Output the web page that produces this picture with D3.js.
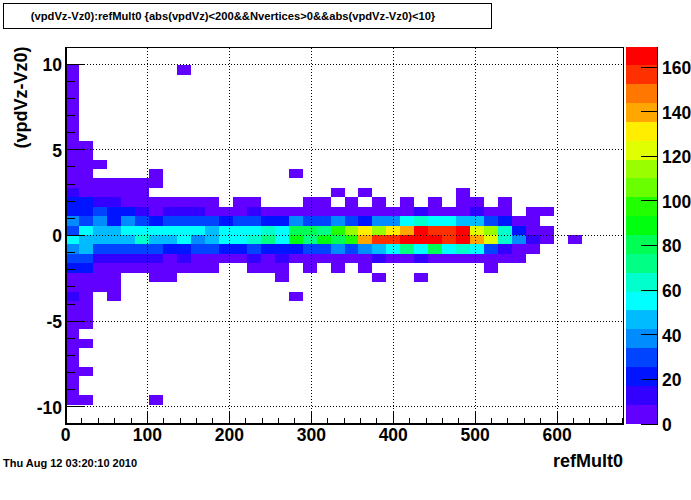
<!DOCTYPE html>
<html><head><meta charset="utf-8">
<script src="https://cdn.jsdelivr.net/npm/d3@7"></script>
<style>
html,body{margin:0;padding:0;background:#fff}
svg{display:block}
text{font-family:"Liberation Sans",Arial,sans-serif;font-weight:bold;fill:#000}
</style></head><body>
<svg id="c" width="691" height="500"></svg>
<script>
const titleText = "(vpdVz-Vz0):refMult0 {abs(vpdVz)<200&&Nvertices>0&&abs(vpdVz-Vz0)<10}";
const dateText = "Thu Aug 12 03:20:10 2010";
const xLabel = "refMult0";
const yLabel = "(vpdVz-Vz0)";
const xTicks = [0,100,200,300,400,500,600];
const yTicks = [-10,-5,0,5,10];
const zTicks = [0,20,40,60,80,100,120,140,160];
const xBinCount = 40, yBinCount = 40;
const xExtent = [0,681], yExtent = [-11,11], zExtent = [0,169];
const palette = ["#6200ff","#3300ff","#0014ff","#0044ff","#008bff","#00bbff","#00ffff","#00ffcc","#00ff85","#00ff55",
                 "#00ff0e","#22ff00","#69ff00","#99ff00","#e0ff00","#ffee00","#ffa700","#ff7700","#ff3000","#ff0000"];
// counts per refMult0 bin, one row per (vpdVz-Vz0) bin from top to bottom
const counts = [
[],
[],
[4,0,0,0,0,0,0,0,4],
[4],[4],[4],[4],[4],[4],[4],
[4,4],
[4,4],
[4,4,4],
[4,4,0,0,0,0,4,0,0,0,0,0,0,0,0,0,4],
[4,4,4,4,4,4,4],
[13,4,4,4,4,4,0,0,0,0,0,0,0,0,0,0,0,0,0,4,0,4,0,0,0,0,0,0,4],
[21,21,13,13,4,4,4,4,4,4,4,0,4,4,0,0,0,4,4,0,4,0,4,0,4,0,4,0,4,4,0,4],
[21,21,30,21,21,13,4,13,13,13,4,4,4,13,4,4,4,4,4,4,4,4,4,4,4,13,4,4,4,13,4,4,0,4,4],
[38,30,38,21,38,30,21,30,30,30,30,21,30,30,21,21,38,30,30,38,30,21,38,38,55,63,55,55,46,46,30,21,4,4],
[30,55,46,46,55,55,55,55,55,55,46,55,55,55,63,55,80,80,72,97,114,131,114,131,139,165,156,156,165,123,114,63,21,4,4],
[55,46,46,46,46,63,46,46,55,38,46,55,55,63,72,55,89,72,89,80,97,139,156,156,165,165,165,156,165,139,123,63,38,13,4,0,4],
[38,46,30,30,30,30,30,21,21,30,30,21,21,30,21,21,21,30,30,38,30,38,46,55,72,55,80,55,63,55,30,13,4,4],
[30,30,13,13,13,13,13,4,13,4,4,4,4,13,4,13,4,4,4,4,4,4,13,4,4,13,4,4,4,4,4,4,4],
[21,21,4,4,4,4,4,4,4,4,4,0,0,4,4,4,0,4,0,4,0,4,0,0,0,0,0,0,0,0,4],
[4,4,4,4,0,0,4,4,0,0,0,0,0,0,0,4,0,0,0,0,0,0,4,0,0,4],
[4,4,4,4],
[13,4,0,4,0,0,0,0,0,0,0,0,0,0,0,0,4],
[4,4],[4,4],[4,4],
[4],
[4,4],
[4],[4],
[4,4],
[4],[4],
[4,4,0,0,0,0,4],
[],
[]
];

const svg = d3.select("#c");
const L=65.5,R=623.5,T=46.5,B=423.5;
const x = d3.scaleLinear().domain(xExtent).range([L,R]);
const y = d3.scaleLinear().domain(yExtent).range([B,T]);
const z = d3.scaleLinear().domain(zExtent).range([B,T]);
const colour = d3.scaleQuantize().domain(zExtent).range(palette);
const xBin = (xExtent[1]-xExtent[0])/xBinCount, yBin = (yExtent[1]-yExtent[0])/yBinCount;
const crisp = s=>s.attr("shape-rendering","crispEdges");

// cells
const cells = counts.flatMap((row,j)=>row.map((v,i)=>({i,j,v}))).filter(d=>d.v>0);
svg.append("g").call(crisp).selectAll("rect").data(cells).join("rect")
  .attr("x",d=>Math.round(x(d.i*xBin)))
  .attr("width",d=>Math.round(x((d.i+1)*xBin))-Math.round(x(d.i*xBin)))
  .attr("y",d=>Math.round(y(yExtent[1]-d.j*yBin)))
  .attr("height",d=>Math.round(y(yExtent[1]-(d.j+1)*yBin))-Math.round(y(yExtent[1]-d.j*yBin)))
  .attr("fill",d=>colour(d.v));

// grid
const grid = svg.append("g").attr("stroke","#000").attr("stroke-dasharray","1 2").call(crisp);
grid.selectAll(".gx").data(xTicks.slice(1)).join("line").attr("class","gx")
  .attr("x1",d=>Math.floor(x(d))+.5).attr("x2",d=>Math.floor(x(d))+.5).attr("y1",424).attr("y2",47);
grid.selectAll(".gy").data(yTicks).join("line").attr("class","gy")
  .attr("y1",d=>Math.round(y(d))+.5).attr("y2",d=>Math.round(y(d))+.5).attr("x1",66).attr("x2",623);

// axes
function styleAxis(g){g.selectAll(".domain").remove();g.selectAll("line").attr("stroke","#000").attr("shape-rendering","crispEdges");}
svg.append("g").attr("transform","translate(0,424)")
  .call(d3.axisTop(x).offset(0).tickValues(d3.range(0,681,20)).tickSize(6).tickFormat("")).call(styleAxis);
svg.append("g").attr("transform","translate(0,424)")
  .call(d3.axisTop(x).offset(0).tickValues(xTicks).tickSize(12).tickFormat("")).call(styleAxis);
svg.append("g").attr("transform","translate(66,0)")
  .call(d3.axisRight(y).tickValues(d3.range(-10,11,1)).tickSize(9).tickFormat("")).call(styleAxis);
svg.append("g").attr("transform","translate(66,0)")
  .call(d3.axisRight(y).tickValues(yTicks).tickSize(18).tickFormat("")).call(styleAxis);

// frame
svg.append("rect").attr("x",65).attr("y",47).attr("width",559).attr("height",1).call(crisp);
svg.append("rect").attr("x",623).attr("y",47).attr("width",1).attr("height",378).call(crisp);
svg.append("rect").attr("x",65).attr("y",47).attr("width",2).attr("height",378).call(crisp);
svg.append("rect").attr("x",65).attr("y",423).attr("width",559).attr("height",2).call(crisp);

// tick labels
svg.append("g").selectAll("text").data(xTicks).join("text")
  .attr("x",d=>x(d)).attr("y",441).attr("text-anchor","middle").attr("font-size",17.5).text(d=>d);
svg.append("g").selectAll("text").data(yTicks).join("text")
  .attr("x",62).attr("y",d=>y(d)+7.4).attr("text-anchor","end").attr("font-size",17.5).text(d=>d);

// palette
const bandH = (zExtent[1]-zExtent[0])/palette.length;
svg.append("g").call(crisp).selectAll("rect").data(palette).join("rect")
  .attr("x",626).attr("width",31)
  .attr("y",(d,i)=>Math.round(z((i+1)*bandH)))
  .attr("height",(d,i)=>Math.round(z(i*bandH))-Math.round(z((i+1)*bandH)))
  .attr("fill",d=>d);
svg.append("rect").attr("x",657).attr("y",47).attr("width",1).attr("height",378).call(crisp);
svg.append("g").attr("transform","translate(657,0)")
  .call(d3.axisLeft(z).tickValues(zTicks).tickSize(16).tickFormat("")).call(styleAxis);
svg.append("g").selectAll("text").data(zTicks).join("text")
  .attr("x",662).attr("y",d=>z(d)+7.4).attr("font-size",17.5).text(d=>d);

// title box and labels
svg.append("rect").attr("x",3.5).attr("y",3.5).attr("width",488).attr("height",24.5)
  .attr("fill","#fff").attr("stroke","#000").call(crisp);
svg.append("text").attr("x",233).attr("y",20).attr("text-anchor","middle").attr("font-size",11.2).text(titleText);
svg.append("text").attr("x",3).attr("y",467).attr("font-size",11).text(dateText);
svg.append("text").attr("x",623).attr("y",467).attr("text-anchor","end").attr("font-size",18).text(xLabel);
svg.append("text").attr("transform","translate(27,97.5) rotate(-90)").attr("text-anchor","middle").attr("font-size",18).text(yLabel);
</script>
</body></html>
